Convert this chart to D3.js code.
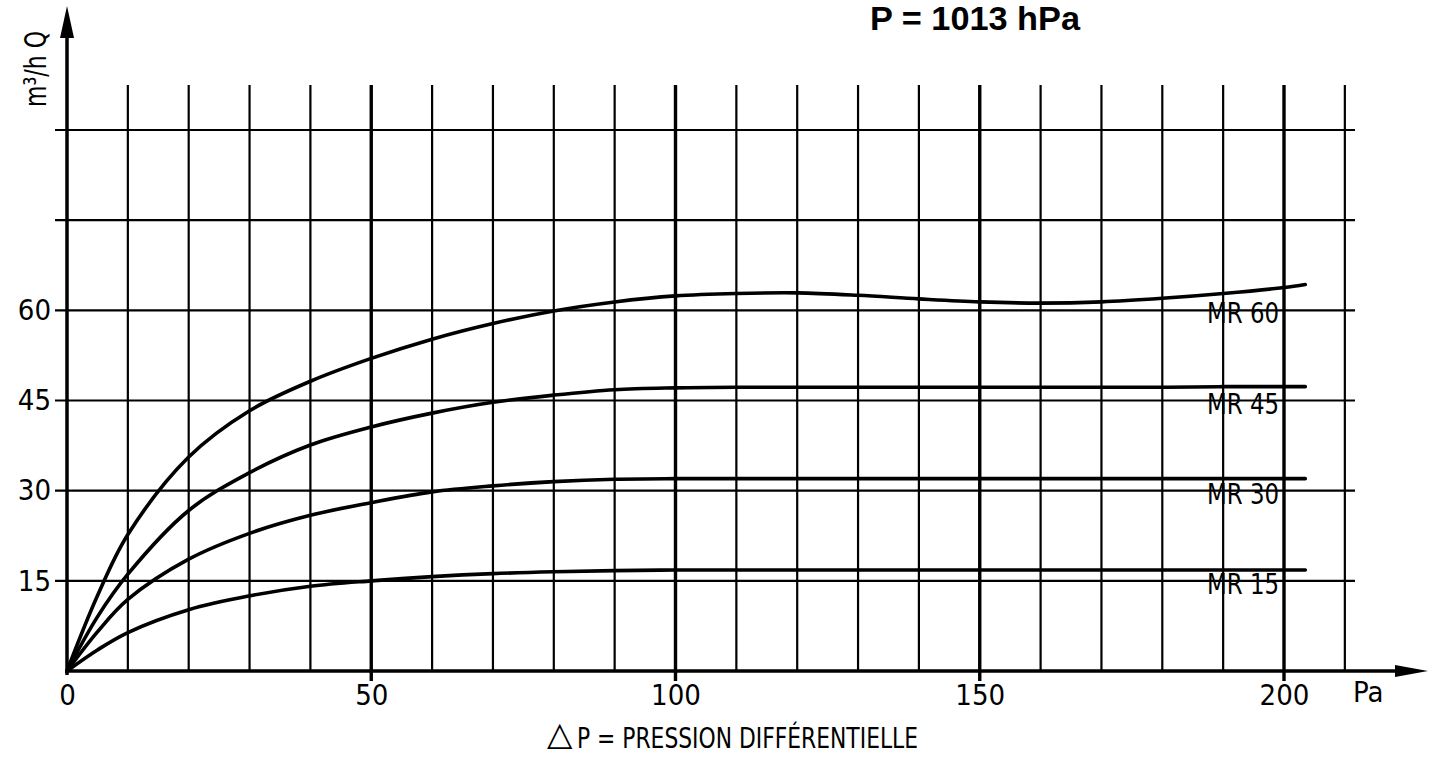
<!DOCTYPE html>
<html><head><meta charset="utf-8">
<script src="https://cdn.jsdelivr.net/npm/d3@7"></script>
<style>
body{margin:0;background:#fff}
svg{display:block;background:#fff}
.narrow{font-family:'Liberation Sans Narrow','Arial Narrow','DejaVu Sans Condensed','Liberation Sans',sans-serif}
</style>
</head><body>
<svg id="c" width="1429" height="757"></svg>
<script>
// ---- data ----
const pressure = [0, 5, 10, 20, 30, 40, 50, 60, 70, 80, 90, 100, 110, 120, 130, 140, 150, 160, 170, 180, 190, 200, 203.5];
const mr60 = [0, 12.5, 22.7, 35.6, 43.3, 48.2, 52.0, 55.2, 57.8, 59.9, 61.4, 62.4, 62.8, 62.9, 62.5, 61.9, 61.4, 61.2, 61.4, 62.0, 62.8, 63.8, 64.3];
const mr45 = [0, 9.0, 16.1, 26.7, 33.0, 37.6, 40.6, 42.9, 44.7, 45.9, 46.8, 47.1, 47.2, 47.2, 47.2, 47.2, 47.2, 47.2, 47.2, 47.2, 47.3, 47.3, 47.3];
const mr30 = [0, 6.5, 11.9, 18.6, 22.9, 25.9, 28.0, 29.8, 30.8, 31.5, 31.9, 32.0, 32.0, 32.0, 32.0, 32.0, 32.0, 32.0, 32.0, 32.0, 32.0, 32.0, 32.0];
const mr15 = [0, 3.5, 6.4, 10.2, 12.5, 14.1, 15.0, 15.7, 16.2, 16.5, 16.7, 16.8, 16.8, 16.8, 16.8, 16.8, 16.8, 16.8, 16.8, 16.8, 16.8, 16.8, 16.8];
const seriesNames = ["MR 60", "MR 45", "MR 30", "MR 15"];
const seriesLevels = [60, 45, 30, 15];
const xTickLabels = [0, 50, 100, 150, 200];
const yTickLabels = [15, 30, 45, 60];
const xGrid = [10, 20, 30, 40, 50, 60, 70, 80, 90, 100, 110, 120, 130, 140, 150, 160, 170, 180, 190, 200, 210];
const xMajor = [50, 100, 150, 200];
const yGrid = [15, 30, 45, 60, 75, 90];
const title = "P = 1013 hPa";
const yTitle = "m³/h Q";
const xUnit = "Pa";
const xTitle = "P = PRESSION DIFFÉRENTIELLE";

// ---- chart ----
const svg = d3.select("#c");
const x = d3.scaleLinear().domain([0, 200]).range([67, 1284]);
const y = d3.scaleLinear().domain([0, 90]).range([671, 130]);
const y0 = y(0), x0 = x(0);

// horizontal grid
svg.append("g").selectAll("line").data(yGrid).join("line")
  .attr("x1", 55).attr("x2", 1355)
  .attr("y1", d => y(d)).attr("y2", d => y(d))
  .attr("stroke", "#000").attr("stroke-width", 2.2);

// vertical grid
svg.append("g").selectAll("line").data(xGrid).join("line")
  .attr("x1", d => x(d)).attr("x2", d => x(d))
  .attr("y1", 85)
  .attr("y2", d => xMajor.includes(d) ? y0 + 10 : y0)
  .attr("stroke", "#000")
  .attr("stroke-width", d => xMajor.includes(d) ? 3.4 : 2.2);

// axes lines + arrows
svg.append("line").attr("x1", x0).attr("x2", x0).attr("y1", y0 + 4).attr("y2", 36)
  .attr("stroke", "#000").attr("stroke-width", 3.5);
svg.append("path").attr("d", `M${x0},6 L${x0 - 7},38 L${x0 + 7},38 Z`).attr("fill", "#000");
svg.append("line").attr("x1", x0 - 2).attr("x2", 1398).attr("y1", y0).attr("y2", y0)
  .attr("stroke", "#000").attr("stroke-width", 3.5);
svg.append("path").attr("d", `M1428,${y0} L1395,${y0 - 6} L1395,${y0 + 6} Z`).attr("fill", "#000");

// tick labels via axes
const xAxis = svg.append("g").attr("class", "narrow").attr("transform", `translate(0,${y0 + 5})`)
  .call(d3.axisBottom(x).tickValues(xTickLabels).tickSize(0).tickPadding(8).tickFormat(d3.format("d")));
xAxis.select(".domain").remove();
xAxis.attr("font-family", null).attr("font-size", null);
xAxis.selectAll("text").attr("font-size", 29).attr("fill", "#000");

const yAxis = svg.append("g").attr("class", "narrow").attr("transform", `translate(${x0},0)`)
  .call(d3.axisLeft(y).tickValues(yTickLabels).tickSize(0).tickPadding(16).tickFormat(d3.format("d")));
yAxis.select(".domain").remove();
yAxis.attr("font-family", null).attr("font-size", null);
yAxis.selectAll("text").attr("font-size", 29).attr("fill", "#000");

// curves
const line = d3.line().x((d, i) => x(pressure[i])).y(d => y(d)).curve(d3.curveCatmullRom.alpha(0.5));
const allSeries = [mr60, mr45, mr30, mr15];
svg.append("g").selectAll("path").data(allSeries).join("path")
  .attr("d", d => line(d))
  .attr("fill", "none").attr("stroke", "#000").attr("stroke-width", 3.6)
  .attr("stroke-linejoin", "round").attr("stroke-linecap", "round");

// curve labels
svg.append("g").selectAll("text").data(seriesNames).join("text")
  .attr("class", "narrow")
  .attr("x", 1279).attr("y", (d, i) => y(seriesLevels[i]) + 13)
  .attr("text-anchor", "end").attr("font-size", 28)
  .attr("textLength", 72).attr("lengthAdjust", "spacingAndGlyphs")
  .text(d => d);

// unit "Pa"
svg.append("text").attr("class", "narrow").attr("x", 1353).attr("y", 702)
  .attr("font-size", 29).text(xUnit);

// title
svg.append("text").attr("x", 870).attr("y", 30)
  .attr("font-family", "'Liberation Sans','Arial',sans-serif").attr("font-weight", "bold")
  .attr("font-size", 34).attr("textLength", 210).attr("lengthAdjust", "spacingAndGlyphs")
  .text(title);

// y title rotated
svg.append("text").attr("class", "narrow")
  .attr("transform", "translate(46,107) rotate(-90)")
  .attr("font-size", 31).attr("textLength", 76).attr("lengthAdjust", "spacingAndGlyphs")
  .text(yTitle);

// x title
svg.append("text").attr("x", 547).attr("y", 745)
  .attr("font-family", "'DejaVu Sans',sans-serif").attr("font-size", 33).text("△");
svg.append("text").attr("class", "narrow").attr("x", 577).attr("y", 748)
  .attr("font-size", 28).attr("textLength", 341).attr("lengthAdjust", "spacingAndGlyphs")
  .text(xTitle);
</script>
</body></html>
